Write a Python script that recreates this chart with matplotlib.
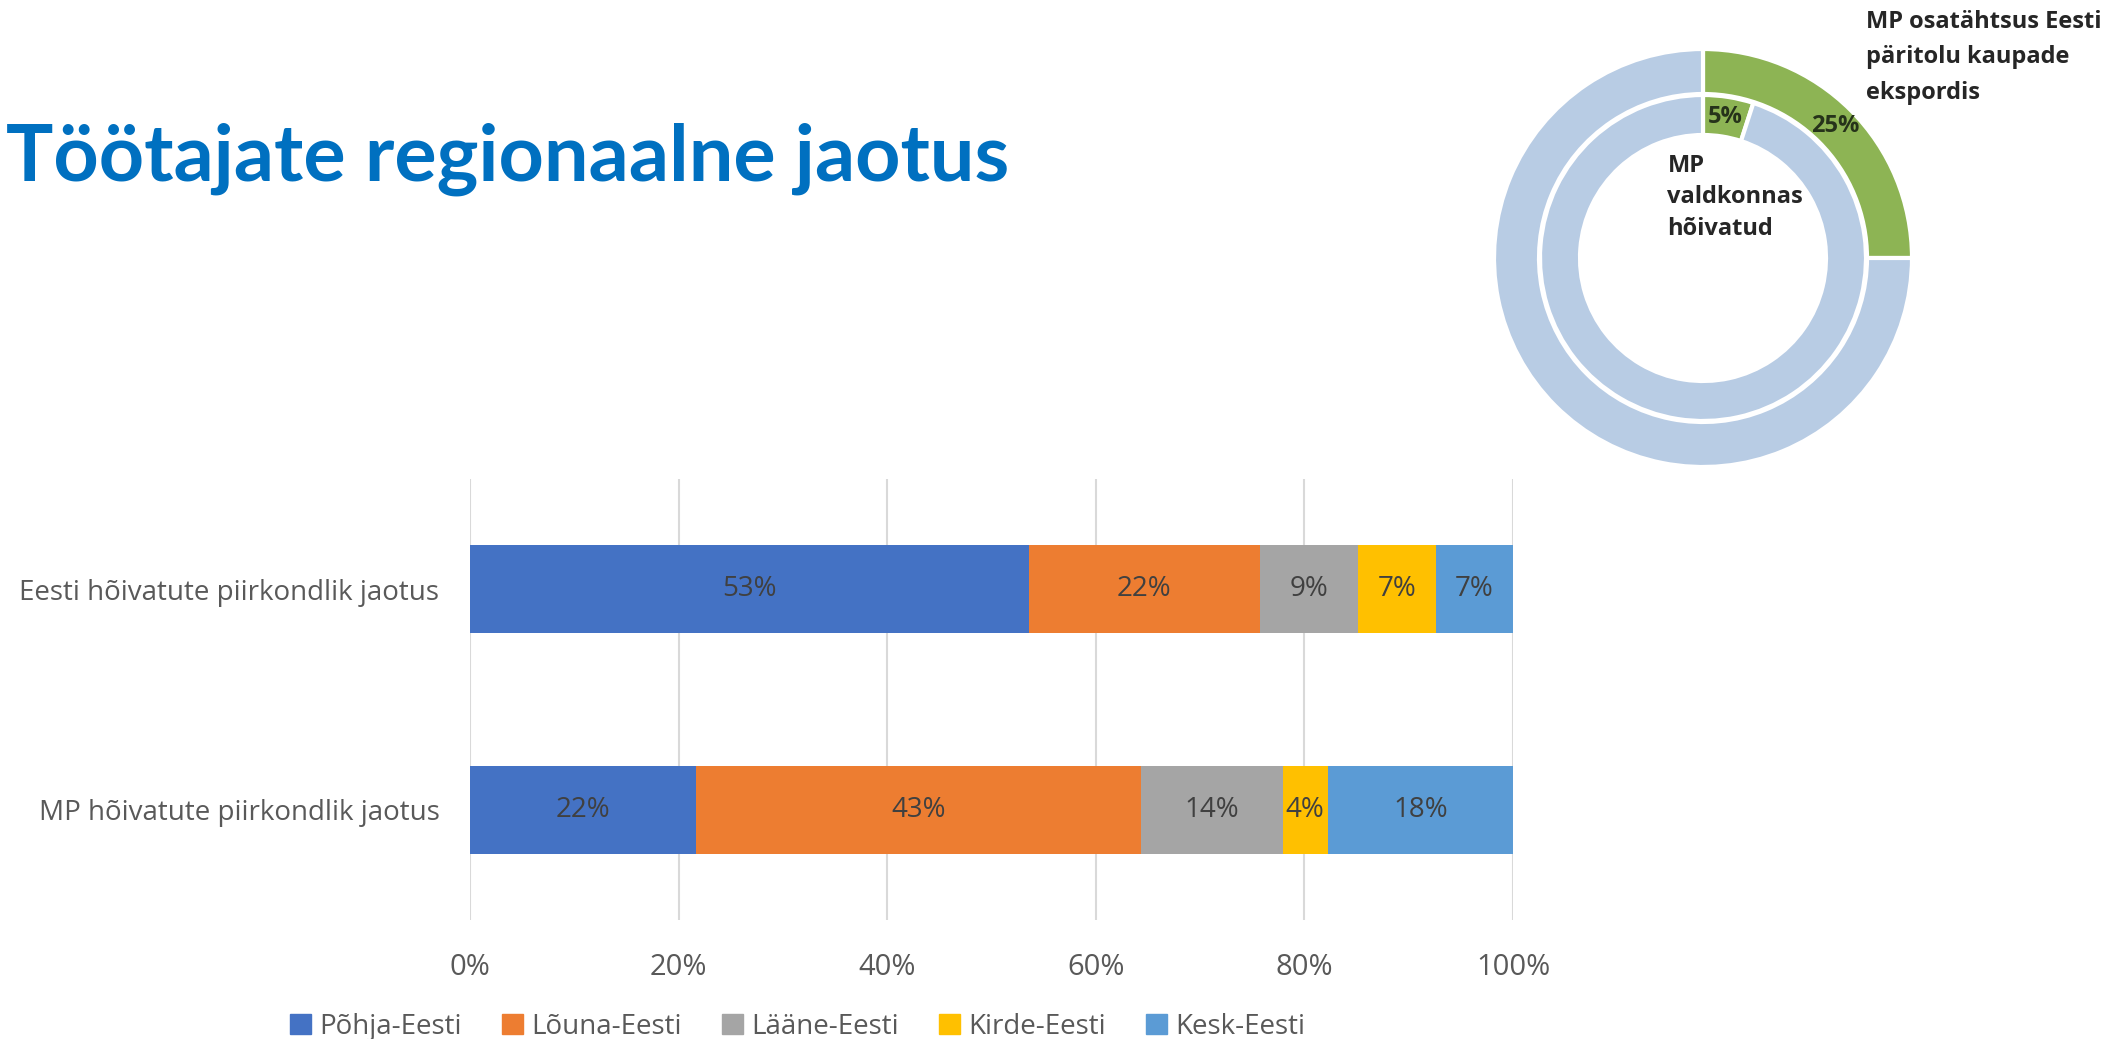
import numpy as np
import matplotlib.pyplot as plt
from matplotlib.patches import Patch

plt.rcParams['font.family'] = ['Open Sans', 'DejaVu Sans']

# andmed
categories = ["MP hõivatute piirkondlik jaotus", "Eesti hõivatute piirkondlik jaotus"]
regions = ["Põhja-Eesti", "Lõuna-Eesti", "Lääne-Eesti", "Kirde-Eesti", "Kesk-Eesti"]
mp_share = [0.217, 0.427, 0.136, 0.043, 0.178]
eesti_share = [0.534, 0.221, 0.094, 0.074, 0.074]
region_colors = ["#4472C4", "#ED7D31", "#A5A5A5", "#FFC000", "#5B9BD5"]

ticks = [0, 0.2, 0.4, 0.6, 0.8, 1.0]
tick_labels = ["0%", "20%", "40%", "60%", "80%", "100%"]

export_share = [25, 75]   # välimine ring
employed_share = [5, 95]  # sisemine ring
donut_colors = ["#8DB454", "#B8CCE4"]

fig = plt.figure(figsize=(21.05, 10.39), dpi=100)

fig.text(0.003, 1 - 181 / 1039, "Töötajate regionaalne jaotus", family=["Lato", "DejaVu Sans"],
         fontsize=57, fontweight="bold", color="#0070C0", va="baseline")

# --- 100% tulpdiagramm ---
ax = fig.add_axes([470 / 2105, 1 - 920 / 1039, 1043 / 2105, 441 / 1039])

data = np.array([mp_share, eesti_share])
totals = data.sum(axis=1)
norm = data / totals[:, None]
y = np.arange(len(categories))
left = np.zeros(len(categories))

for i, reg in enumerate(regions):
    bars = ax.barh(y, norm[:, i], left=left, height=0.4, color=region_colors[i],
                   label=reg, zorder=3)
    for j, b in enumerate(bars):
        ax.text(left[j] + norm[j, i] / 2, y[j], "{:.0%}".format(data[j, i]),
                ha="center", va="center", fontsize=20, color="#404040", zorder=4)
    left += norm[:, i]

ax.set_xlim(0, 1)
ax.set_ylim(-0.5, 1.5)
ax.set_xticks(ticks)
ax.set_xticklabels(tick_labels)
ax.set_yticks(y)
ax.set_yticklabels(categories)
ax.grid(axis="x", color="#D9D9D9", linewidth=1.5, zorder=0)
for s in ax.spines.values():
    s.set_visible(False)
ax.tick_params(axis="both", length=0, labelsize=20, labelcolor="#595959")
ax.tick_params(axis="x", labelsize=21, pad=24)
ax.tick_params(axis="y", pad=22)

handles = [Patch(color=c, label=r) for c, r in zip(region_colors, regions)]
fig.legend(handles=handles, loc="center", bbox_to_anchor=(798 / 2105, 1 - 1027 / 1039),
           ncol=5, frameon=False, fontsize=20, labelcolor="#595959",
           handlelength=0.75, handleheight=0.75, handletextpad=0.3, columnspacing=1.45)

# --- rõngasdiagramm ---
cx, cy, half = 1703, 258, 250
dax = fig.add_axes([(cx - half) / 2105, 1 - (cy + half) / 1039, 2 * half / 2105, 2 * half / 1039])

r_out, w_out = 1.0, 45 / 209
r_in, w_in = 163 / 209, 40 / 209
dax.pie(export_share, radius=r_out, colors=donut_colors, startangle=90, counterclock=False,
        wedgeprops=dict(width=w_out, edgecolor="white", linewidth=3))
dax.pie(employed_share, radius=r_in, colors=donut_colors, startangle=90, counterclock=False,
        wedgeprops=dict(width=w_in, edgecolor="white", linewidth=3))

lim = half / 209
dax.set_xlim(-lim, lim)
dax.set_ylim(-lim, lim)
dax.set_aspect("equal")
dax.axis("off")

for vals, r, w in [(export_share, r_out, w_out), (employed_share, r_in, w_in)]:
    ang = np.deg2rad(90 - 360 * vals[0] / sum(vals) / 2)
    rm = r - w / 2
    dax.text(rm * np.cos(ang), rm * np.sin(ang), "{}%".format(vals[0]),
             ha="center", va="center", fontsize=17, fontweight="bold", color="#26331A")

dax.text(-0.17, 0.29, "MP\nvaldkonnas\nhõivatud", ha="left", va="center",
         fontsize=17, fontweight="bold", color="#262626", linespacing=1.4)
dax.text(0.78, 0.96, "MP osatähtsus Eesti\npäritolu kaupade\nekspordis", ha="left", va="center",
         fontsize=17, fontweight="bold", color="#262626", linespacing=1.62)

fig.savefig("out.png", dpi=100)
